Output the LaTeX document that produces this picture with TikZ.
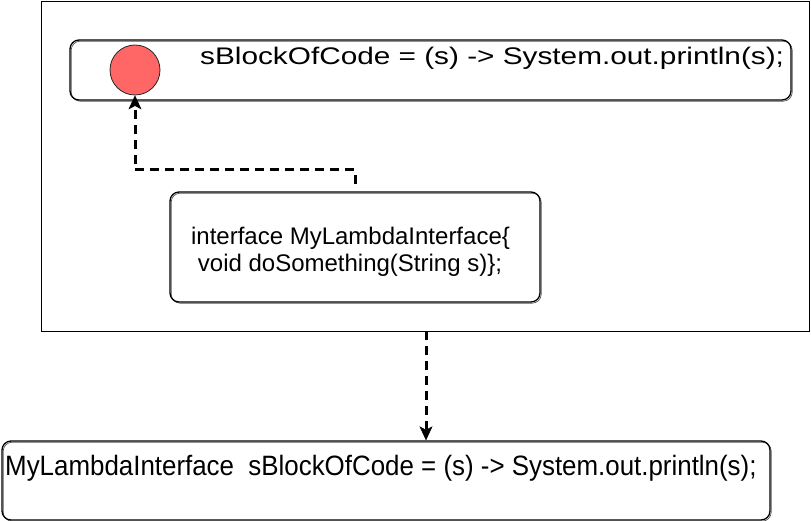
\documentclass[tikz,border=0pt]{standalone}
\usepackage{fontspec}
\setmainfont{Liberation Sans}
\newfontfamily\topfont[FakeStretch=1.24]{Liberation Sans}
\newfontfamily\botfont[FakeStretch=0.925]{Liberation Sans}
\usetikzlibrary{arrows.meta}
\definecolor{redfill}{HTML}{FF6666}
\definecolor{sketchgray}{HTML}{555555}
\begin{document}
\begin{tikzpicture}[x=1pt,y=-1pt,
  sketchbox/.style={draw=black, line width=1.3pt, rounded corners=9pt, inner sep=0pt,
    preaction={draw=sketchgray, line width=0.7pt, rounded corners=9pt, transform canvas={xshift=1.2pt,yshift=-1.2pt}}},
  plainbox/.style={draw=black, line width=1pt, inner sep=0pt},
  conn/.style={draw=black, line width=3pt, dash pattern=on 9pt off 6pt,
    -{Stealth[length=14pt,width=13pt,inset=3.5pt,line width=0.5pt]}},
  lbl/.style={inner sep=0pt, font=\fontsize{24}{27}\selectfont}
]
\useasboundingbox (0,0) rectangle (811,521);
% outer rectangle
\node[plainbox, minimum width=768.5pt, minimum height=330pt, anchor=north west] (outer) at (40.5,1) {};
% top code box
\node[sketchbox, minimum width=721pt, minimum height=60pt] (top) at (430.5,70) {};
\node[draw=black!85, line width=0.8pt, fill=redfill, circle, minimum size=50pt, inner sep=0pt] (circ) at (135,70) {};
\node[inner sep=0pt, anchor=base west, font=\topfont\fontsize{24}{28}\selectfont] (toptext) at (200,65) {sBlockOfCode = (s) -> System.out.println(s);};
% middle interface box
\node[sketchbox, minimum width=370pt, minimum height=110pt] (mid) at (355,247) {};
\node[lbl, anchor=base] (mid1) at (350.5,245) {interface MyLambdaInterface\{};
\node[lbl, anchor=base] (mid2) at (350,272) {void doSomething(String s)\};};
% bottom box
\node[sketchbox, minimum width=768pt, minimum height=79pt] (bot) at (386,480.5) {};
\node[inner sep=0pt, anchor=base west, font=\botfont\fontsize{28}{32}\selectfont] (bottext) at (5,475) {MyLambdaInterface\ \ sBlockOfCode = (s) -> System.out.println(s);};
% connectors
\coordinate (bend) at (0,170);
\coordinate (midtop) at (355,184);
\draw[conn] (midtop) -- (midtop |- bend) -| (circ.south);
\coordinate (outbot) at (426,331);
\draw[conn] (outbot) -- (outbot |- bot.north);
\end{tikzpicture}
\end{document}
